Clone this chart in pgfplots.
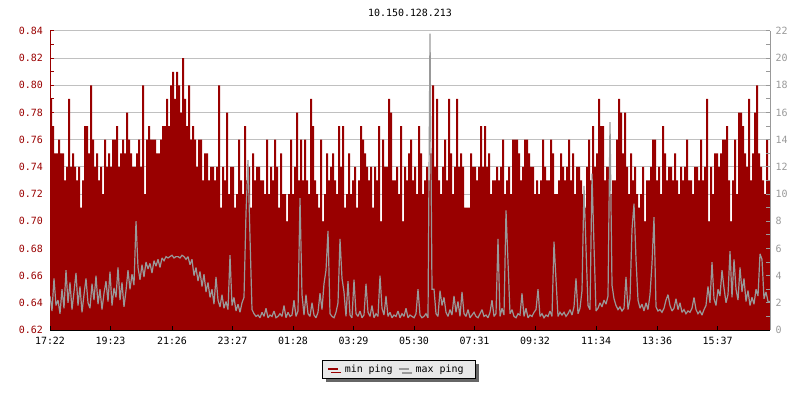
\documentclass[border=0pt]{standalone}
\usepackage{fontspec}
\setmainfont{DejaVu Sans Mono}
\usepackage{pgfplots}
\usepackage{pgfplotstable}
\pgfplotsset{compat=1.18}
\usetikzlibrary{shadows}
\definecolor{minred}{RGB}{153,0,0}
\definecolor{maxgray}{RGB}{153,153,153}
\definecolor{gridgray}{RGB}{192,192,192}
\definecolor{legbg}{RGB}{232,232,232}
\definecolor{shadowgray}{RGB}{102,102,102}

% min ping, one value every 4 minutes from 17:22
\pgfplotstableread[row sep=\\, header=false]{
0.79\\0.77\\0.75\\0.75\\0.76\\0.75\\0.75\\0.73\\0.74\\0.79\\
0.74\\0.75\\0.74\\0.73\\0.74\\0.71\\0.73\\0.77\\0.77\\0.75\\
0.80\\0.76\\0.74\\0.75\\0.73\\0.74\\0.72\\0.76\\0.74\\0.75\\
0.74\\0.76\\0.76\\0.77\\0.74\\0.75\\0.76\\0.75\\0.78\\0.76\\
0.75\\0.74\\0.74\\0.75\\0.76\\0.74\\0.80\\0.72\\0.76\\0.77\\
0.76\\0.76\\0.76\\0.75\\0.75\\0.76\\0.77\\0.77\\0.79\\0.77\\
0.80\\0.81\\0.79\\0.81\\
0.80\\0.78\\0.82\\0.79\\0.77\\0.80\\0.76\\0.77\\0.76\\0.74\\
0.76\\0.76\\0.73\\0.75\\0.75\\0.73\\0.74\\0.74\\0.73\\0.74\\
0.80\\0.71\\0.74\\0.73\\0.78\\0.72\\0.74\\0.74\\0.71\\0.72\\
0.76\\0.73\\0.72\\0.77\\0.73\\0.74\\0.71\\0.75\\0.73\\0.74\\
0.74\\0.73\\0.73\\0.72\\0.76\\0.72\\0.74\\0.73\\0.76\\0.74\\
0.71\\0.75\\0.72\\0.72\\0.70\\0.72\\0.76\\0.72\\0.74\\0.78\\
0.73\\0.76\\0.73\\0.76\\
0.73\\0.72\\0.79\\0.77\\0.73\\0.72\\0.71\\0.76\\0.70\\0.72\\
0.75\\0.73\\0.74\\0.75\\0.73\\0.72\\0.77\\0.74\\0.77\\0.71\\
0.72\\0.75\\0.72\\0.73\\0.74\\0.71\\0.73\\0.77\\0.76\\0.75\\
0.74\\0.73\\0.74\\0.71\\0.74\\0.73\\0.77\\0.70\\0.76\\0.74\\
0.74\\0.79\\0.78\\0.73\\0.73\\0.74\\0.72\\0.77\\0.70\\0.74\\
0.73\\0.75\\0.76\\0.73\\0.74\\0.72\\0.77\\0.75\\0.72\\0.73\\
0.74\\0.73\\0.75\\0.80\\
0.74\\0.79\\0.73\\0.72\\0.74\\0.76\\0.73\\0.79\\0.75\\0.72\\
0.74\\0.79\\0.74\\0.75\\0.74\\0.71\\0.71\\0.71\\0.75\\0.74\\
0.74\\0.73\\0.74\\0.77\\0.74\\0.77\\0.74\\0.75\\0.72\\0.73\\
0.73\\0.74\\0.73\\0.74\\0.76\\0.72\\0.73\\0.74\\0.72\\0.76\\
0.76\\0.76\\0.75\\0.73\\0.74\\0.76\\0.76\\0.75\\0.74\\0.74\\
0.72\\0.73\\0.72\\0.73\\0.76\\0.74\\0.73\\0.73\\0.76\\0.75\\
0.72\\0.72\\0.73\\0.75\\
0.74\\0.73\\0.74\\0.76\\0.73\\0.75\\0.72\\0.74\\0.74\\0.73\\
0.72\\0.71\\0.74\\0.76\\0.73\\0.77\\0.74\\0.75\\0.79\\0.77\\
0.77\\0.73\\0.74\\0.74\\0.72\\0.73\\0.73\\0.76\\0.79\\0.78\\
0.75\\0.78\\0.74\\0.72\\0.75\\0.73\\0.74\\0.72\\0.71\\0.72\\
0.74\\0.70\\0.73\\0.73\\0.74\\0.76\\0.76\\0.73\\0.74\\0.72\\
0.77\\0.75\\0.73\\0.74\\0.74\\0.73\\0.75\\0.73\\0.72\\0.74\\
0.73\\0.74\\0.76\\0.73\\
0.73\\0.72\\0.74\\0.74\\0.73\\0.76\\0.73\\0.74\\0.79\\0.70\\
0.74\\0.72\\0.75\\0.75\\0.74\\0.75\\0.76\\0.76\\0.77\\0.73\\
0.70\\0.73\\0.76\\0.72\\0.78\\0.78\\0.77\\0.75\\0.74\\0.79\\
0.73\\0.75\\0.78\\0.80\\0.75\\0.74\\0.73\\0.72\\0.76\\0.73\\
0.73\\
}\minping

% max ping, same times
\pgfplotstableread[row sep=\\, header=false]{
2.5\\1.4\\3.8\\1.8\\2.2\\1.2\\3.0\\1.6\\4.4\\2.0\\
3.5\\1.5\\2.8\\4.2\\1.8\\3.2\\1.3\\2.6\\3.8\\2.0\\
1.6\\3.4\\2.2\\4.0\\1.9\\3.0\\1.5\\2.7\\3.6\\2.1\\
4.3\\1.8\\3.1\\2.4\\4.6\\2.2\\3.5\\1.7\\2.9\\4.4\\
3.0\\4.1\\3.3\\8.0\\4.6\\3.7\\4.8\\3.9\\5.0\\4.5\\
4.9\\4.2\\5.1\\4.7\\5.2\\4.6\\5.3\\5.1\\5.4\\5.3\\
5.4\\5.5\\5.3\\5.4\\
5.4\\5.3\\5.5\\5.4\\5.2\\5.4\\4.8\\5.2\\4.0\\4.6\\
3.6\\4.3\\3.2\\4.1\\2.8\\3.5\\2.4\\3.0\\1.9\\3.9\\
2.2\\1.7\\2.6\\1.6\\2.1\\1.5\\5.5\\1.8\\2.4\\1.4\\
1.9\\1.3\\2.0\\2.4\\8.6\\12.5\\6.8\\1.5\\1.2\\1.0\\
1.1\\0.9\\1.3\\1.0\\1.6\\0.9\\1.1\\1.0\\1.4\\0.9\\
1.0\\1.2\\1.0\\1.8\\0.9\\1.3\\1.0\\1.1\\2.2\\1.0\\
1.4\\9.7\\2.6\\1.1\\
2.6\\1.2\\1.0\\2.0\\1.1\\0.9\\1.3\\2.7\\1.5\\3.4\\
4.4\\7.3\\1.2\\1.0\\0.9\\1.3\\2.0\\6.7\\3.8\\2.8\\
1.0\\3.6\\1.1\\0.9\\3.7\\1.2\\1.0\\1.4\\0.9\\1.1\\
3.4\\1.3\\1.0\\1.8\\0.9\\1.2\\1.0\\4.0\\1.6\\1.1\\
2.5\\1.0\\1.3\\0.9\\1.1\\1.0\\1.4\\0.9\\1.2\\1.0\\
1.6\\0.9\\1.1\\1.0\\0.9\\1.2\\3.0\\1.1\\0.9\\1.0\\
1.2\\0.9\\21.8\\3.0\\
3.0\\1.2\\1.0\\2.9\\1.8\\2.4\\1.3\\1.0\\1.5\\1.1\\
2.5\\1.3\\2.1\\1.0\\2.8\\1.2\\1.0\\1.5\\0.9\\1.1\\
1.3\\1.0\\0.9\\1.2\\1.5\\1.0\\1.1\\0.9\\1.3\\2.2\\
1.0\\1.2\\6.7\\1.0\\1.6\\1.1\\8.8\\5.0\\1.2\\1.5\\
1.0\\0.9\\1.2\\1.1\\2.7\\1.0\\1.6\\0.9\\1.1\\1.0\\
1.3\\1.5\\3.0\\1.0\\1.2\\0.9\\1.1\\1.0\\1.4\\1.0\\
6.5\\3.7\\1.0\\1.3\\
1.1\\1.3\\1.0\\1.2\\1.5\\1.1\\1.7\\3.8\\1.2\\1.6\\
2.9\\10.6\\6.0\\1.8\\1.5\\11.5\\6.2\\1.4\\1.6\\2.0\\
1.7\\2.2\\1.9\\2.5\\15.3\\3.3\\2.3\\1.8\\1.5\\1.7\\
1.4\\1.6\\3.9\\1.5\\2.3\\7.4\\9.3\\5.2\\2.2\\1.6\\
1.9\\1.4\\2.0\\1.5\\2.6\\4.9\\8.3\\1.7\\1.4\\1.5\\
1.3\\1.6\\2.2\\2.6\\1.8\\1.4\\1.6\\2.3\\1.5\\2.0\\
1.3\\1.5\\1.2\\1.4\\
1.3\\1.6\\2.4\\1.5\\1.2\\1.4\\1.1\\1.5\\1.8\\3.2\\
2.0\\5.0\\2.3\\1.8\\3.0\\2.5\\4.4\\3.1\\2.0\\2.6\\
5.8\\2.4\\5.2\\3.0\\2.2\\4.6\\2.8\\3.8\\2.1\\2.9\\
1.8\\2.4\\1.9\\3.0\\2.5\\5.6\\5.2\\2.3\\2.8\\2.1\\
2.1\\
}\maxping

\newcommand{\chartfont}{\fontsize{10}{12}\selectfont}

\begin{document}
\begin{tikzpicture}
\useasboundingbox (0,0) rectangle (800bp,400bp);
\node[font=\chartfont, inner sep=0pt] at (410bp,386.7bp) {10.150.128.213};

\begin{axis}[
  at={(50bp,70bp)}, anchor=south west,
  scale only axis, width=720bp, height=299bp,
  xmin=0, xmax=360, ymin=0.62, ymax=0.84,
  axis x line=none,
  axis y line*=left,
  y axis line style={-, draw=minred, line width=1bp},
  ytick={0.62,0.64,0.66,0.68,0.70,0.72,0.74,0.76,0.78,0.80,0.82,0.84},
  yticklabels={0.62,0.64,0.66,0.68,0.70,0.72,0.74,0.76,0.78,0.80,0.82,0.84},
  minor ytick={0.63,0.65,0.67,0.69,0.71,0.73,0.75,0.77,0.79,0.81,0.83},
  tick align=inside, major tick length=4bp, minor tick length=4bp,
  y tick style={draw=minred, line width=1bp},
  yticklabel style={text=minred, font=\chartfont, xshift=-3.5bp},
  ymajorgrids, major grid style={draw=gridgray, line width=1bp},
]
\addplot[const plot, fill=minred, draw=none]
  table[x expr=\coordindex, y index=0] {\minping} \closedcycle;
\end{axis}

\begin{axis}[
  at={(50bp,70bp)}, anchor=south west,
  scale only axis, width=720bp, height=299bp,
  xmin=0, xmax=360, ymin=0, ymax=22,
  axis x line*=bottom, axis y line*=right,
  x axis line style={-, draw=black, line width=1bp},
  y axis line style={-, draw=maxgray, line width=1bp},
  xtick={0,30.25,61,91.25,121.5,151.75,182,212.25,242.5,273,303.5,333.75},
  xticklabels={17:22,19:23,21:26,23:27,01:28,03:29,05:30,07:31,09:32,11:34,13:36,15:37},
  ytick={0,2,4,6,8,10,12,14,16,18,20,22},
  yticklabels={0,2,4,6,8,10,12,14,16,18,20,22},
  minor ytick={1,3,5,7,9,11,13,15,17,19,21},
  tick align=inside, major tick length=4bp, minor tick length=4bp,
  x tick style={draw=black, line width=1bp},
  y tick style={draw=maxgray, line width=1bp},
  xticklabel style={text=black, font=\chartfont, yshift=-3.5bp},
  yticklabel style={text=maxgray, font=\chartfont, xshift=2bp},
  legend columns=2,
  legend cell align=left,
  legend image code/.code={\draw[#1, line width=2bp] (0bp,0bp) -- (10bp,0bp);},
  legend style={at={(0.4847,-0.1)}, anchor=north, draw=black, line width=1bp,
    fill=legbg, font=\chartfont, inner xsep=4bp, inner ysep=2.5bp,
    drop shadow={shadow xshift=3.5bp, shadow yshift=-3.5bp, fill=shadowgray, opacity=1},
    /tikz/every even column/.append style={column sep=0bp}},
]
\addlegendimage{minred}
\addlegendentry{\kern4bp min ping\kern3bp}
\addplot[sharp plot, draw=maxgray, line width=1.2bp, line join=miter, miter limit=2]
  table[x expr=\coordindex, y index=0] {\maxping};
\addlegendentry{\kern4bp max ping\kern5.5bp}
\end{axis}
\end{tikzpicture}
\end{document}
